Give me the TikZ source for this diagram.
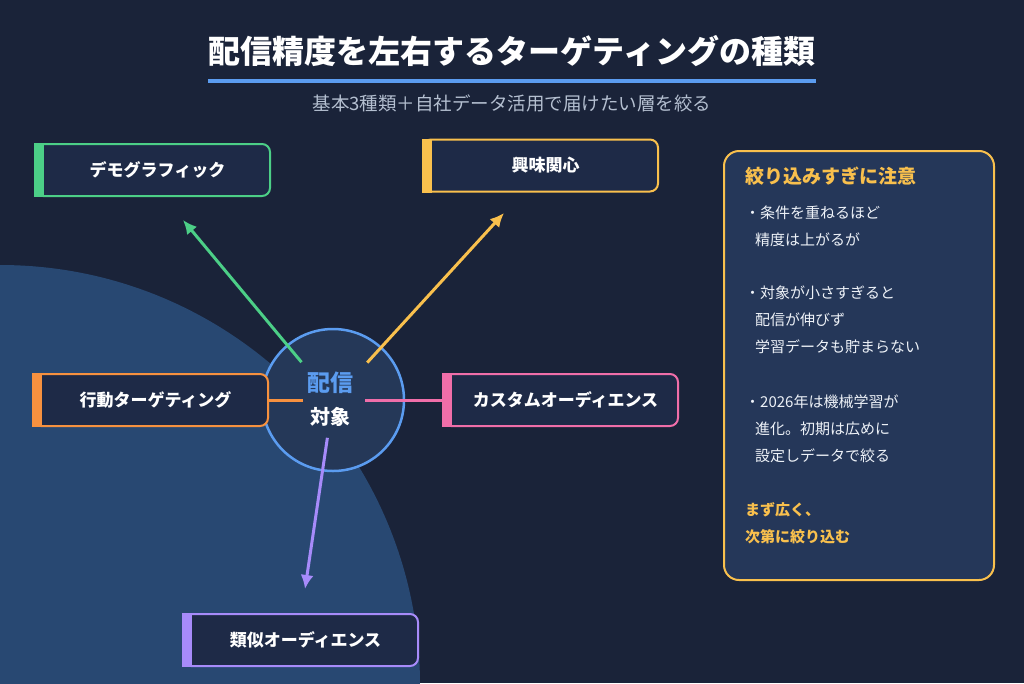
\documentclass[tikz,border=0pt]{standalone}
\usepackage{fontspec}
\setmainfont{Noto Sans CJK JP}
\usetikzlibrary{positioning,arrows.meta,calc}

\definecolor{bgnavy}{HTML}{1A2339}
\definecolor{bgdisc}{HTML}{284872}
\definecolor{boxfill}{HTML}{1E2A47}
\definecolor{hubfill}{HTML}{253858}
\definecolor{hubblue}{HTML}{5B9CF0}
\definecolor{demogreen}{HTML}{4CCF87}
\definecolor{intyellow}{HTML}{F9C04D}
\definecolor{actorange}{HTML}{F7913F}
\definecolor{custpink}{HTML}{F06EA9}
\definecolor{lookpurple}{HTML}{A78BFA}
\definecolor{panelfill}{HTML}{253759}
\definecolor{subgray}{HTML}{B4BFD0}
\definecolor{notewhite}{HTML}{EEF2F8}

\begin{document}
\begin{tikzpicture}[x=1pt, y=-1pt,
  tagbox/.style={draw=#1, line width=2pt, fill=boxfill, rounded corners=8pt,
    minimum width=235pt, minimum height=52pt, text=white,
    font=\fontsize{17}{20}\selectfont\bfseries,
    execute at begin node=\hspace{10pt}},
  link/.style={draw=#1, line width=3pt, -{Latex[length=14pt,width=13pt]}},
  stub/.style={draw=#1, line width=3pt},
  note/.style={anchor=west, inner sep=0pt, text=notewhite, font=\fontsize{15}{18}\selectfont}]
\useasboundingbox (0,0) rectangle (1024,683);
\fill[bgnavy] (0,0) rectangle (1024,683);
% background disc
\begin{scope}
  \clip (0,0) rectangle (1024,683);
  \fill[bgdisc] (0,685) circle (420);
\end{scope}
% title
\node[text=white, font=\fontsize{32}{38}\selectfont\bfseries] (title) at (512,51) {配信精度を左右するターゲティングの種類};
\draw[hubblue, line width=4pt] (208,81) -- (816,81);
\node[text=subgray, font=\fontsize{18.5}{22}\selectfont] (subtitle) at (512,103) {基本3種類＋自社データ活用で届けたい層を絞る};
% hub
\node[circle, draw=hubblue, line width=2.5pt, fill=hubfill, minimum size=142pt] (hub) at (333,400) {};
% targeting boxes
\node[tagbox=demogreen] (demo) at (152.5,170) {デモグラフィック};
\node[tagbox=intyellow] (interest) at (540.5,165.5) {興味関心};
\node[tagbox=actorange] (behave) at (150.5,400) {行動ターゲティング};
\node[tagbox=custpink] (custom) at (560.5,400) {カスタムオーディエンス};
\node[tagbox=lookpurple] (lookalike) at (300.5,640) {類似オーディエンス};
\foreach \nm/\col in {demo/demogreen, interest/intyellow, behave/actorange, custom/custpink, lookalike/lookpurple}
  \fill[\col] (\nm.north west) rectangle ($(\nm.south west)+(10,0)$);
% links from the hub
\coordinate (demo tip) at (183,220);
\coordinate (interest tip) at (504,213);
\coordinate (lookalike tip) at (305,589);
\draw[link=demogreen] ($(hub)!0.21!(demo tip)$) -- (demo tip);
\draw[link=intyellow] ($(hub)!0.2!(interest tip)$) -- (interest tip);
\draw[link=lookpurple] ($(hub)!0.2!(lookalike tip)$) -- (lookalike tip);
\draw[stub=actorange] (behave.east) -- ++(34,0);
\draw[stub=custpink] (custom.west) -- ++(-77,0);
\node[text=hubblue, font=\fontsize{23}{26}\selectfont\bfseries] (hubtop) at (330,383) {配信};
\node[text=white, font=\fontsize{20}{23}\selectfont\bfseries] (hubbot) at (330,417) {対象};
% caution panel
\node[draw=intyellow, line width=2pt, fill=panelfill, rounded corners=15pt,
  minimum width=270pt, minimum height=429pt] (panel) at (859,365.5) {};
\node[note, text=intyellow, font=\fontsize{19}{22}\selectfont\bfseries] (caution) at (745,176) {絞り込みすぎに注意};
\foreach \x/\y/\t [count=\i] in {745/213/・条件を重ねるほど, 755/240/精度は上がるが,
    745/293/・対象が小さすぎると, 755/320/配信が伸びず, 755/347/学習データも貯まらない,
    745/402/・2026年は機械学習が, 755/429/進化。初期は広めに, 755/456/設定しデータで絞る}
  \node[note] (note\i) at (\x,\y) {\t};
\node[note, text=intyellow, font=\fontsize{15}{18}\selectfont\bfseries] (wrap1) at (745,510) {まず広く、};
\node[note, text=intyellow, font=\fontsize{15}{18}\selectfont\bfseries] (wrap2) at (745,537) {次第に絞り込む};
\end{tikzpicture}
\end{document}
